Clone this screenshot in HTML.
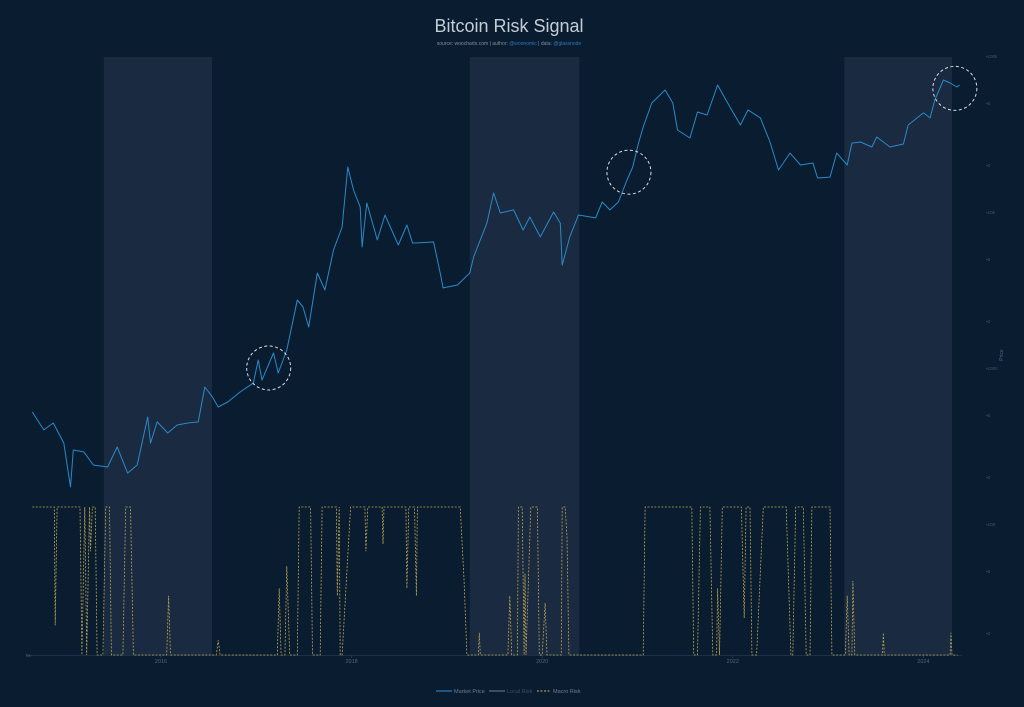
<!DOCTYPE html>
<html><head><meta charset="utf-8"><style>
html,body{margin:0;padding:0;background:#0a1c30;}
svg{display:block;font-family:"Liberation Sans",sans-serif;}
</style></head><body>
<svg id="chart" width="1024" height="707" viewBox="0 0 1024 707">
<rect width="1024" height="707" fill="#0a1c30"/>
<text x="509" y="32" text-anchor="middle" font-size="18" fill="#c4ccd6">Bitcoin Risk Signal</text>
<text x="509" y="45" text-anchor="middle" font-size="5" fill="#8090a0">source: woocharts.com | author: <tspan fill="#2a7ab8">@woonomic</tspan> | data: <tspan fill="#2a7ab8">@glassnode</tspan></text>
<g id="bands"></g>
<g id="axes"></g>
<g id="risk"></g>
<g id="price"></g>
<g id="circles"></g>
<g id="legend">
 <line x1="436" y1="691" x2="452" y2="691" stroke="#2a7ab8" stroke-width="1.2"/>
 <text x="454" y="693" font-size="5.5" fill="#6a7e94">Market Price</text>
 <line x1="489" y1="691" x2="505" y2="691" stroke="#6a7e94" stroke-width="1"/>
 <text x="507" y="693" font-size="5.5" fill="#3a4e64">Local Risk</text>
 <line x1="537" y1="691" x2="551" y2="691" stroke="#c8b050" stroke-width="1" stroke-dasharray="2,1.5"/>
 <text x="553" y="693" font-size="5.5" fill="#6a7e94">Macro Risk</text>
</g>
</svg>
<script>
const priceDates=[2014.65,2014.77,2014.87,2014.98,2015.05,2015.08,2015.19,2015.29,2015.44,2015.54,2015.65,2015.75,2015.86,2015.89,2015.96,2016.07,2016.17,2016.28,2016.39,2016.46,2016.54,2016.60,2016.70,2016.83,2016.97,2017.02,2017.06,2017.18,2017.23,2017.32,2017.43,2017.49,2017.55,2017.64,2017.72,2017.81,2017.90,2017.96,2018.02,2018.09,2018.11,2018.16,2018.27,2018.35,2018.49,2018.58,2018.64,2018.86,2018.93,2018.96,2019.11,2019.24,2019.28,2019.42,2019.49,2019.56,2019.70,2019.80,2019.87,2019.98,2020.12,2020.19,2020.21,2020.29,2020.38,2020.56,2020.63,2020.71,2020.80,2020.89,2020.95,2021.01,2021.06,2021.15,2021.29,2021.37,2021.42,2021.55,2021.63,2021.73,2021.84,2021.94,2022.08,2022.16,2022.29,2022.39,2022.48,2022.60,2022.71,2022.84,2022.89,2023.02,2023.09,2023.20,2023.25,2023.34,2023.46,2023.51,2023.65,2023.79,2023.84,2024.00,2024.07,2024.12,2024.21,2024.28,2024.35,2024.38];
const priceValues=[522,401,444,330,173,298,290,239,232,312,212,239,485,330,451,383,431,444,451,755,651,562,605,702,802,1125,837,1247,929,1304,2729,2460,1832,4064,3162,5702,8017,19420,13830,10760,5970,11420,6625,9570,6140,8260,6320,6420,4064,3260,3405,4064,5150,8490,13240,9860,10310,7670,9290,6920,10000,8490,4570,6920,9570,9160,11590,10310,11590,16030,19420,27650,35070,50000,60540,50000,33570,29790,43740,41880,65200,50700,36140,45100,40100,28100,18580,23870,20000,20600,16520,16750,23870,20000,27650,28100,26100,30270,26100,27300,36140,43150,40100,52200,70200,67150,63270,65000];
const riskDates=[2014.65,2014.88,2014.89,2014.91,2015.15,2015.17,2015.20,2015.22,2015.25,2015.26,2015.28,2015.31,2015.33,2015.39,2015.42,2015.46,2015.48,2015.60,2015.63,2015.68,2015.71,2016.06,2016.08,2016.10,2016.58,2016.60,2016.62,2017.22,2017.24,2017.26,2017.30,2017.32,2017.35,2017.43,2017.45,2017.57,2017.59,2017.67,2017.69,2017.84,2017.85,2017.87,2017.88,2017.90,2017.99,2018.14,2018.15,2018.17,2018.32,2018.33,2018.34,2018.57,2018.58,2018.60,2018.66,2018.68,2018.69,2019.14,2019.18,2019.21,2019.33,2019.34,2019.35,2019.64,2019.66,2019.68,2019.74,2019.75,2019.79,2019.81,2019.82,2019.83,2019.88,2019.95,2019.97,2020.00,2020.03,2020.05,2020.20,2020.21,2020.24,2020.26,2020.28,2021.06,2021.08,2021.57,2021.59,2021.63,2021.66,2021.76,2021.79,2021.83,2021.84,2021.86,2021.89,2022.09,2022.12,2022.14,2022.18,2022.20,2022.25,2022.32,2022.56,2022.61,2022.63,2022.66,2022.74,2022.77,2022.81,2022.83,2023.02,2023.04,2023.18,2023.20,2023.22,2023.25,2023.26,2023.28,2023.57,2023.58,2023.59,2024.28,2024.29,2024.30,2024.36];
const riskValues=[1,1,0.2,1,1,0,1,0,1,0.7,1,1,0,0,1,1,0,0,1,1,0,0,0.4,0,0,0.1,0,0,0.45,0,0,0.6,0,0,1,1,0,0,1,1,0.4,1,0,0,1,1,0.7,1,1,0.75,1,1,0.45,1,1,0.4,1,1,0.5,0,0,0.15,0,0,0.4,0,0,1,1,0,0.55,0,1,1,0,0,0.35,0,0,1,1,0.8,0,0,1,1,0,0,1,1,0,0,0.45,0,1,1,0.25,1,1,0,0,1,1,0,0,1,1,0,0,1,1,0,0,0.4,0,0,0.5,0,0,0.15,0,0,0.15,0,0];
const bandStarts=[2015.40,2019.24,2023.17];
const bandEnds=[2016.535,2020.39,2024.30];
const xTickYears=[2016,2018,2020,2022,2024];
const priceTicks=[100000,50000,20000,10000,5000,2000,1000,500,200,100,50,20];
const priceTickLabels=["100k","5","2","10k","5","2","1000","5","2","100","5","2"];
const circleDates=[2017.13,2020.91,2024.33];
const circlePrices=[1000,18000,62000];

const NS="http://www.w3.org/2000/svg";
const X=y=>161+(y-2016)*95.3;
const Y=p=>56+(5-Math.log10(p))*156;
const RY=v=>655-v*148;
function mk(tag,attrs,parent){const e=document.createElementNS(NS,tag);for(const k in attrs)e.setAttribute(k,attrs[k]);parent.appendChild(e);return e;}

const bands=document.getElementById('bands');
bandStarts.forEach((s,i)=>{
 const r=mk('rect',{x:X(s),y:57,width:X(bandEnds[i])-X(s),height:598,fill:'#1a2a40'},bands);
 
 
});
const axes=document.getElementById('axes');
const base=mk('line',{x1:26,y1:655.5,x2:962,y2:655.5,stroke:'#1c3048','stroke-width':1},axes);


xTickYears.forEach(yr=>{
 const t=mk('text',{x:X(yr),y:663,'text-anchor':'middle','font-size':5.5,fill:'#4e6680'},axes);
 t.textContent=yr;
 
 
 const tk=mk('line',{x1:X(yr),y1:655,x2:X(yr),y2:658,stroke:'#2c4460','stroke-width':0.6},axes);
 
 
});
priceTicks.forEach((p,i)=>{
 const t=mk('text',{x:986,y:Y(p)+2,'font-size':4.5,fill:'#3e5670'},axes);
 t.textContent='\u25aa'+priceTickLabels[i];
 
 
});
const yt=mk('text',{x:1003,y:355,'font-size':5,fill:'#4e6680','text-anchor':'middle',transform:'rotate(-90 1003 355)'},axes);
yt.textContent='Price';


const z=mk('text',{x:26,y:657,'font-size':4.5,fill:'#4e6680'},axes);
z.textContent='0x';



const risk=document.getElementById('risk');
const rp=mk('path',{d:riskDates.map((d,i)=>(i?'L':'M')+X(d).toFixed(1)+','+RY(riskValues[i]).toFixed(1)).join(''),fill:'none',stroke:'#b8a454','stroke-width':0.8,'stroke-dasharray':'2,1.5'},risk);



const price=document.getElementById('price');
const pp=mk('path',{d:priceDates.map((d,i)=>(i?'L':'M')+X(d).toFixed(1)+','+Y(priceValues[i]).toFixed(1)).join(''),fill:'none',stroke:'#2a8ac8','stroke-width':1,'stroke-linejoin':'round'},price);



const circles=document.getElementById('circles');
circleDates.forEach((d,i)=>{
 const c=mk('circle',{cx:X(d),cy:Y(circlePrices[i]),r:22,fill:'none',stroke:'#d8dde4','stroke-width':1,'stroke-dasharray':'3,2.5'},circles);
 
 
});
</script>
</body></html>
